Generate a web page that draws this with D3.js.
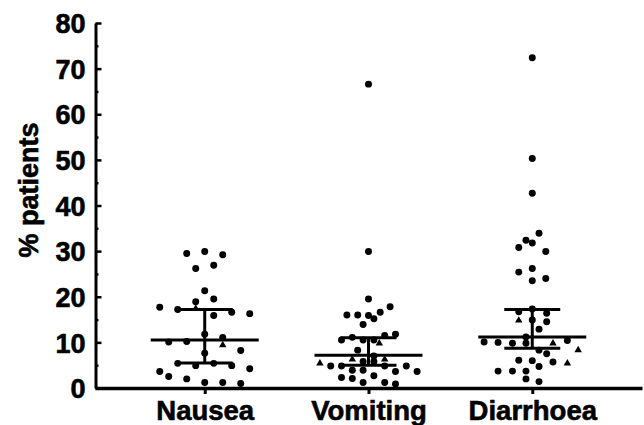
<!DOCTYPE html>
<html><head><meta charset="utf-8">
<script src="https://cdn.jsdelivr.net/npm/d3@7"></script>
<style>
html,body{margin:0;padding:0;background:#fff;}
svg{display:block;}
text{font-family:"Liberation Sans",Arial,sans-serif;font-weight:bold;fill:#000;stroke:#000;stroke-width:0.6px;}
</style></head>
<body>
<svg id="chart" width="644" height="425"></svg>
<script>
// ---- data ----
const categories = ["Nausea", "Vomiting", "Diarrhoea"];
const yTicks = [0, 10, 20, 30, 40, 50, 60, 70, 80];
const yMinorTicks = [5, 15, 25, 35, 45, 55, 65, 75];
// summary: central line, lower bar, upper bar
const centerValues = [10.5, 7.2, 11.2];
const lowerValues = [5.5, 5.0, 8.7];
const upperValues = [17.2, 11.0, 17.2];
// points: [value, jitter slot, shape] shape 0 = circle, 1 = triangle
const nauseaPoints = [
  [29.5,-2,0],[29.9,0,0],[29.2,2,0],[26.2,-1,0],[26.9,1,0],[21.3,0,0],
  [18.9,-1,0],[19.5,1,0],[17.7,-5,0],[17.2,-3,0],[17.4,-1,1],[16.6,3,0],
  [16.3,5,0],[15.9,1,0],[10.1,-4,0],[10.2,-2,0],[11.8,0,0],[11.1,2,0],
  [9.4,2,1],[7.6,0,0],[8.2,4,0],[5.4,-3,0],[4.9,-1,0],[5.4,1,0],
  [4.9,3,0],[4.2,5,0],[3.6,-5,0],[2.5,-4,0],[2.0,-2,0],[1.2,0,0],
  [1.2,2,0],[1.0,4,0]
];
const vomitingPoints = [
  [66.6,0,0],[29.9,0,0],[19.5,0,0],[17.8,2.4,0],[16.0,-2.4,0],[16.0,-1.2,0],
  [15.9,0,0],[16.6,1.3,0],[15.2,0.6,0],[13.9,-0.6,0],
  [10.5,-3.0,0],[11.1,-1.8,0],[10.5,-0.6,0],[10.5,0.6,0],[11.5,1.8,0],[11.8,3.0,0],
  [9.8,1.2,1],[8.3,-1.2,0],[7.0,0.6,0],[5.4,-5.4,1],[6.3,-1.8,1],[6.3,1.8,1],
  [4.8,-4.2,0],[4.8,-3.0,0],[5.8,-0.6,0],[5.8,0.6,0],[4.8,1.8,0],[4.8,4.2,0],
  [3.9,-1.8,0],[3.9,-0.6,0],[3.6,3.0,0],[3.6,5.4,0],
  [2.3,-3.0,0],[2.1,-1.8,0],[1.2,-0.6,0],[2.7,0.6,0],[1.2,1.8,0],[0.9,3.0,0]
];
const diarrhoeaPoints = [
  [72.4,0,0],[50.3,0,0],[42.7,0,0],[33.9,0.75,0],[32.4,-0.7,0],[31.8,0,0],
  [30.8,-1.5,0],[29.9,1.5,0],[26.2,0,0],[25.4,-1.5,0],[24.0,1.5,0],[23.5,0,0],
  [16.7,-1.5,0],[17.3,0,0],[16.4,1.6,0],[14.8,-1.5,1],[14.9,0,0],[14.5,1.6,0],
  [12.9,0.75,0],[11.2,-0.7,0],
  [10.1,-5.35,0],[10.0,-3.8,0],[9.8,-2.2,0],[9.8,-0.7,0],[10.4,3.9,0],
  [9.8,2.3,1],[8.3,5.1,1],
  [8.3,0.75,0],[7.5,1.6,0],[6.1,-1.5,0],[6.0,0,0],[5.7,2.3,0],[5.4,3.9,1],
  [4.7,0.75,0],[3.7,-3.8,0],[3.7,-2.2,0],[3.7,-0.7,0],[2.0,-0.7,0],[1.4,0.75,0]
];
const pointSets = [nauseaPoints, vomitingPoints, diarrhoeaPoints];

// ---- scales ----
const svg = d3.select("#chart");
const x = d3.scalePoint().domain(categories).range([95, 642]).padding(0.67);
const y = d3.scaleLinear().domain([0, 80]).range([388, 23]);
const jitter = d3.scaleLinear().domain([-1, 1]).range([-9, 9]);

// ---- axes ----
const yAxis = d3.axisLeft(y).tickValues(yTicks).tickSizeInner(-6).tickSizeOuter(0).tickPadding(10);
const gy = svg.append("g").attr("transform", "translate(95.5,0)").call(yAxis);
gy.selectAll("path.domain").attr("stroke", "#000").attr("stroke-width", 3);
gy.selectAll(".tick line").attr("stroke", "#000").attr("stroke-width", 2.5);
gy.selectAll(".tick text").style("font-size", "27px").style("font-family", "'Liberation Sans',Arial,sans-serif")
  .style("font-weight", "bold").attr("fill", "#000").attr("stroke", "#000").attr("stroke-width", 0.6).attr("dy", "0.36em");

const yMinor = d3.axisLeft(y).tickValues(yMinorTicks).tickSizeInner(-3).tickSizeOuter(0).tickFormat("");
const gym = svg.append("g").attr("transform", "translate(95.5,0)").call(yMinor);
gym.select("path.domain").remove();
gym.selectAll(".tick line").attr("stroke", "#000").attr("stroke-width", 2.5);

const xAxis = d3.axisBottom(x).tickSizeInner(6).tickSizeOuter(0).tickPadding(6);
const gx = svg.append("g").attr("transform", "translate(0,388)").call(xAxis);
gx.selectAll("path.domain").attr("stroke", "#000").attr("stroke-width", 3.5);
gx.selectAll(".tick line").attr("stroke", "#000").attr("stroke-width", 3);
gx.selectAll(".tick text").style("font-size", "27.5px").style("font-family", "'Liberation Sans',Arial,sans-serif")
  .style("font-weight", "bold").attr("fill", "#000").attr("stroke", "#000").attr("stroke-width", 0.6);

svg.append("text")
  .attr("transform", "translate(38,190) rotate(-90)")
  .attr("text-anchor", "middle")
  .style("font-size", "27px")
  .text("% patients");

// ---- points ----
const circleGen = d3.symbol().type(d3.symbolCircle).size(38);
const triGen = d3.symbol().type(d3.symbolTriangle).size(24);
categories.forEach((c, i) => {
  const g = svg.append("g");
  g.selectAll("path")
    .data(pointSets[i])
    .join("path")
    .attr("d", d => d[2] === 1 ? triGen() : circleGen())
    .attr("transform", d => `translate(${x(c) + jitter(d[1])},${y(d[0])})`)
    .attr("fill", "#000");
});

// ---- summary bars ----
categories.forEach((c, i) => {
  const cx = x(c);
  const g = svg.append("g").attr("stroke", "#000").attr("stroke-width", 3).attr("fill", "none");
  g.append("line").attr("x1", cx).attr("x2", cx).attr("y1", y(lowerValues[i])).attr("y2", y(upperValues[i]));
  g.append("line").attr("x1", cx - 28).attr("x2", cx + 28).attr("y1", y(upperValues[i])).attr("y2", y(upperValues[i]));
  g.append("line").attr("x1", cx - 28).attr("x2", cx + 28).attr("y1", y(lowerValues[i])).attr("y2", y(lowerValues[i]));
  g.append("line").attr("x1", cx - 54).attr("x2", cx + 54).attr("y1", y(centerValues[i])).attr("y2", y(centerValues[i]));
});
</script>
</body></html>
